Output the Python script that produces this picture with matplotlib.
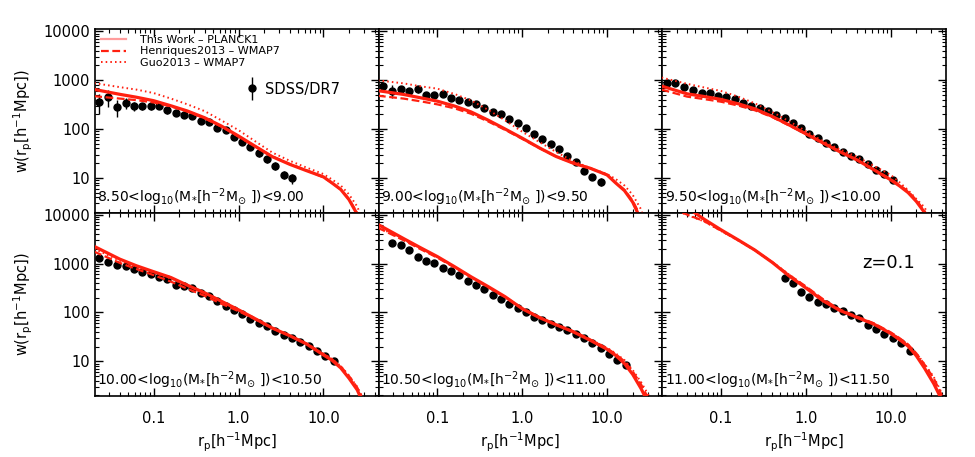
import matplotlib
matplotlib.use('Agg')
import matplotlib.pyplot as plt
from matplotlib.legend_handler import HandlerErrorbar
from matplotlib.ticker import FixedLocator, FuncFormatter

# projected separation of the SDSS/DR7 bins [h^-1 Mpc]
rp_bins = [0.023, 0.029, 0.037, 0.047, 0.059, 0.074, 0.092, 0.116, 0.145, 0.182,
           0.228, 0.285, 0.357, 0.448, 0.561, 0.703, 0.881, 1.10, 1.38, 1.73,
           2.17, 2.72, 3.41, 4.27, 5.35, 6.71, 8.41, 10.5, 13.2, 16.6]
# separation grid of the model curves
rp_model = [0.02, 0.04, 0.063, 0.1, 0.16, 0.25, 0.4, 0.63, 1.0, 1.6,
            2.5, 4.0, 6.3, 10.0, 12.6, 16.0, 20.0, 25.0, 32.0, 40.0]

mass_lo = ['8.50', '9.00', '9.50', '10.00', '10.50', '11.00']
mass_hi = ['9.00', '9.50', '10.00', '10.50', '11.00', '11.50']
first_bin = [0, 0, 0, 0, 1, 14]

# SDSS/DR7 measurements
obs_1 = [360, 457, 285, 344, 295, 295, 295, 295, 244, 215, 193, 184, 148, 141, 106,
         95.5, 69.5, 55, 42, 31.8, 24, 17.6, 11.5, 9.8]
err_1 = [160, 180, 105, 90, 60, 50, 45, 40, 38, 32, 26, 22, 18, 18, 12, 10, 8, 6, 5,
         4.5, 4, 3.2, 2.2, 2.2]
obs_2 = [755, 605, 645, 605, 645, 494, 494, 510, 436, 391, 361, 318, 264, 226, 199,
         160, 131, 106, 79, 61.6, 48.7, 38.5, 28.1, 21.5, 13.9, 10.6, 8.4]
err_2 = [120, 180, 110, 90, 100, 45, 40, 40, 30, 25, 22, 18, 15, 12, 11, 9, 7, 6,
         4.5, 3.5, 3.2, 2.8, 2.2, 1.8, 1.6, 1.5, 1.5]
obs_3 = [855, 880, 730, 625, 535, 551, 471, 457, 403, 334, 294, 272, 233, 193, 165,
         131, 103, 79, 64.6, 52.6, 42.3, 34.4, 28.6, 24, 19.3, 14.6, 11.9, 9.1]
err_3 = [60, 55, 45, 40, 35, 32, 28, 25, 22, 18, 16, 14, 12, 10, 8, 7, 5, 4, 3.2,
         2.6, 2.1, 1.7, 1.4, 1.2, 1, 0.8, 0.7, 0.6]
obs_4 = [1270, 1050, 942, 898, 769, 679, 610, 522, 483, 365, 343, 312, 247, 221, 175,
         135, 113, 91.3, 74.5, 60.9, 52, 41.9, 35.3, 30.2, 24.3, 20.8, 16.4, 13, 9.9]
err_4 = [90, 75, 65, 60, 50, 45, 40, 33, 30, 22, 20, 18, 14, 12, 10, 7, 6, 5, 4, 3,
         2.6, 2.1, 1.8, 1.5, 1.2, 1, 0.9, 0.8, 0.7]
obs_5 = [2680, 2390, 1900, 1390, 1135, 1020, 807, 691, 582, 433, 365, 303, 229, 184,
         150, 122, 102, 80.5, 68.9, 59, 50.5, 43.2, 35.8, 29.3, 23.2, 19, 14.1, 10.6, 8.2]
err_5 = [150, 130, 100, 75, 60, 55, 42, 36, 30, 22, 19, 16, 12, 10, 8, 6, 5, 4, 3.5,
         3, 2.5, 2.2, 1.8, 1.5, 1.2, 1, 0.8, 0.7, 0.6]
obs_6 = [499, 394, 267, 211, 162, 150, 124, 105, 90, 77, 56, 45, 37, 30.2, 23.2, 16.4]
err_6 = [40, 30, 20, 16, 12, 10, 9, 7, 6, 5, 4, 3.5, 3, 2.5, 2.2, 2]

# This Work - PLANCK1
this_1 = [646, 513, 447, 380, 299, 234, 170, 115, 72, 43.6, 27.2, 19, 14.1, 10.5, 7.9, 5.8, 3.6, 1.8, 0.5, 0.1]
this_2 = [610, 510, 437, 372, 295, 224, 151, 100, 65, 41, 27.5, 20, 15.8, 11.5, 7.9, 5.5, 3.2, 1.4, 0.3, 0.05]
this_3 = [755, 525, 464, 404, 328, 259, 182, 122, 80, 51.7, 34.5, 23.3, 14.7, 9.1, 6.9, 5.0, 3.3, 1.95, 0.8, 0.1]
this_4 = [2240, 1230, 898, 681, 517, 360, 251, 169, 113, 73, 47.8, 33.4, 22.7, 13.5, 10.5, 7.3, 4.5, 2.6, 1.0, 0.2]
this_5 = [6300, 3250, 2120, 1390, 860, 535, 335, 209, 119, 78, 56, 40, 27, 17.6, 13.2, 9.0, 5.4, 2.8, 1.2, 0.2]
this_6 = [30000, 14000, 8100, 4900, 3030, 1890, 1060, 562, 316, 172, 110, 79, 57.7, 37, 27.9, 20.4, 12.9, 7.2, 3.5, 1.6]

# Henriques2013 - WMAP7
henr_1 = [470, 420, 390, 350, 290, 228, 165, 112, 70, 43, 27.5, 19.3, 14.3, 10.3, 7.9, 5.8, 3.7, 1.9, 0.5, 0.1]
henr_2 = [480, 420, 370, 320, 265, 205, 142, 96, 63, 40.5, 27.5, 20, 15.8, 11.5, 8.1, 5.7, 3.4, 1.6, 0.3, 0.05]
henr_3 = [640, 460, 410, 362, 302, 242, 176, 119, 79, 51, 34.5, 23.5, 15, 9.4, 7.2, 5.3, 3.5, 2.1, 0.9, 0.15]
henr_4 = [1750, 1030, 770, 580, 425, 305, 218, 150, 106, 71, 47.5, 33.5, 23, 14, 11, 7.8, 5, 2.9, 1.2, 0.3]
henr_5 = [5400, 3000, 1980, 1320, 830, 520, 325, 205, 122, 80, 56, 41, 28, 18.3, 14, 10, 6.2, 3.4, 1.5, 0.3]
henr_6 = [17000, 10000, 7400, 4700, 3000, 1880, 1070, 590, 340, 185, 115, 82, 60, 39, 30, 22, 14.5, 8.5, 4.5, 2.0]

# Guo2013 - WMAP7
guo_1 = [870, 720, 640, 545, 420, 320, 232, 150, 95, 55, 33, 22.5, 16.3, 12, 9.3, 7.0, 4.6, 2.6, 0.9, 0.2]
guo_2 = [990, 860, 750, 670, 520, 385, 245, 150, 88, 54, 34, 22, 16, 12, 9.5, 7, 4.5, 2.3, 0.6, 0.1]
guo_3 = [1130, 840, 710, 600, 459, 336, 224, 145, 91, 56, 38.5, 27, 17.7, 11.5, 8.2, 5.6, 3.7, 2.5, 1.0, 0.16]
guo_4 = [2000, 1150, 850, 650, 495, 350, 245, 167, 114, 74, 48.5, 34, 23.5, 14.3, 11.2, 8, 5.1, 3, 1.3, 0.3]
guo_5 = [5600, 3100, 2050, 1350, 840, 525, 328, 207, 121, 79, 56, 41, 28.3, 18.8, 14.5, 10.6, 6.6, 3.8, 1.8, 0.4]
guo_6 = [16500, 9800, 7300, 4650, 2950, 1850, 1080, 600, 335, 182, 113, 80, 59, 38.5, 29.5, 22, 14.5, 8.8, 4.8, 2.2]

obs = [obs_1, obs_2, obs_3, obs_4, obs_5, obs_6]
errs = [err_1, err_2, err_3, err_4, err_5, err_6]
this_work = [this_1, this_2, this_3, this_4, this_5, this_6]
henriques = [henr_1, henr_2, henr_3, henr_4, henr_5, henr_6]
guo = [guo_1, guo_2, guo_3, guo_4, guo_5, guo_6]

RED = '#ff2010'

plt.rcParams['font.family'] = ['DejaVu Sans']
plt.rcParams['mathtext.fontset'] = 'dejavusans'

fig, axes = plt.subplots(2, 3, figsize=(9.75, 4.57), dpi=100, sharex=True, sharey=True)
fig.subplots_adjust(left=0.0974, right=0.9703, top=0.936, bottom=0.1335, wspace=0, hspace=0)

for i, ax in enumerate(axes.flat):
    n = len(obs[i])
    rp = rp_bins[first_bin[i]:first_bin[i] + n]
    eb = ax.errorbar(rp, obs[i], yerr=errs[i], fmt='o', color='k', ms=5,
                     elinewidth=1, capsize=0, zorder=2, label='SDSS/DR7')
    l1, = ax.plot(rp_model, this_work[i], '-', color=RED, lw=2.3, zorder=3,
                  label='This Work – PLANCK1')
    l2, = ax.plot(rp_model, henriques[i], color=RED, lw=1.6, ls=(0, (3.5, 1.6)), zorder=3,
                  label='Henriques2013 – WMAP7')
    l3, = ax.plot(rp_model, guo[i], color=RED, lw=1.4, ls=(0, (0.8, 1.6)), zorder=3,
                  label='Guo2013 – WMAP7')

    ax.set_xscale('log')
    ax.set_yscale('log')
    ax.set_xlim(0.0204, 44.7)
    ax.set_ylim(1.95, 11000)

    ax.text(0.008, 0.025,
            mass_lo[i] + r'<log$_{10}$(M$_{*}$[h$^{-2}$M$_{\odot}$ ])<' + mass_hi[i],
            transform=ax.transAxes, ha='left', va='bottom', fontsize=10)

    ax.tick_params(which='both', direction='in', top=True, right=True)
    ax.tick_params(which='major', length=6, width=1)
    ax.tick_params(which='minor', length=3, width=0.8)
    ax.tick_params(axis='x', which='major', pad=11, labelsize=10.5)
    ax.tick_params(axis='y', which='major', pad=3.5, labelsize=10.5)
    for sp in ax.spines.values():
        sp.set_linewidth(1.2)

    if i == 0:
        leg = ax.legend(handles=[l1, l2, l3], loc='upper left', bbox_to_anchor=(0, 1),
                        frameon=False, fontsize=8, handlelength=2.2, handletextpad=1.3,
                        labelspacing=0.1, borderaxespad=0.4, borderpad=0.15)
        leg.get_lines()[0].set_color('#ff9c9c')
        leg.get_lines()[0].set_linewidth(1.6)
        ax.add_artist(leg)
        ax.legend(handles=[eb], loc='center left', bbox_to_anchor=(0.528, 0.674),
                  frameon=False, fontsize=10.5, handlelength=1.0, handletextpad=0.4,
                  borderaxespad=0, borderpad=0,
                  handler_map={type(eb): HandlerErrorbar(yerr_size=0.8)})

axes[1, 2].text(0.703, 0.726, 'z=0.1', transform=axes[1, 2].transAxes,
                ha='left', va='center', fontsize=13)

axes[0, 0].yaxis.set_major_locator(FixedLocator([10, 100, 1000, 10000]))
axes[0, 0].yaxis.set_major_formatter(FuncFormatter(lambda v, p: '%d' % v))
axes[0, 0].xaxis.set_major_locator(FixedLocator([0.1, 1.0, 10.0]))
axes[0, 0].xaxis.set_major_formatter(FuncFormatter(lambda v, p: '%.1f' % v))

for ax in axes[:, 0]:
    ax.set_ylabel(r'w(r$_{\rm p}$[h$^{-1}$Mpc])', fontsize=10.5, labelpad=6)
for ax in axes[1, :]:
    ax.set_xlabel(r'r$_{\rm p}$[h$^{-1}$Mpc]', fontsize=10.5, labelpad=3)

fig.savefig('out.png', dpi=100)
